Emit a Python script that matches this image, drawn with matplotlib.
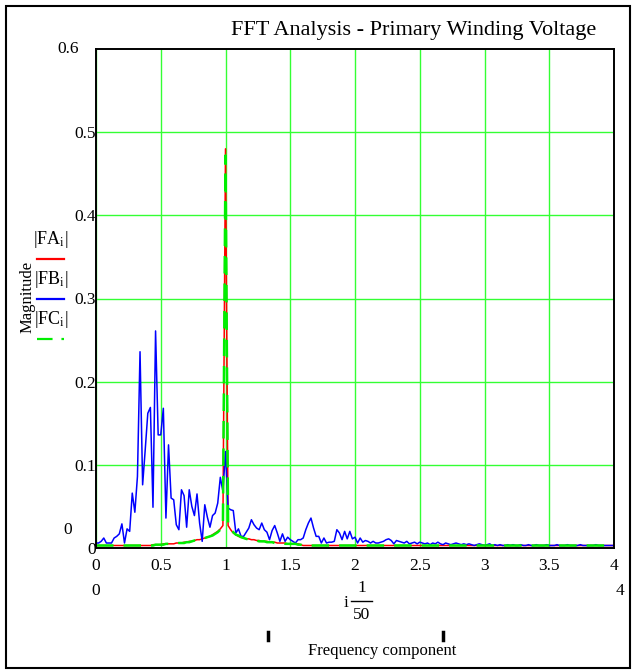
import matplotlib
matplotlib.use("Agg")
import matplotlib.pyplot as plt
import numpy as np
from matplotlib.patches import Rectangle
from matplotlib.lines import Line2D

plt.rcParams['font.family'] = ['Liberation Serif', 'DejaVu Serif']
plt.rcParams['mathtext.fontset'] = 'stix'

W, H = 633, 671

# spectrum magnitudes, sampled at i/50
fb = [0.006, 0.006, 0.008, 0.012, 0.006, 0.006, 0.006, 0.012, 0.014, 0.017,
      0.029, 0.006, 0.023, 0.020, 0.066, 0.043, 0.086, 0.236, 0.076, 0.118,
      0.162, 0.169, 0.049, 0.261, 0.136, 0.136, 0.168, 0.036, 0.124, 0.060,
      0.058, 0.028, 0.022, 0.070, 0.063, 0.025, 0.070, 0.050, 0.039, 0.065,
      0.030, 0.008, 0.052, 0.037, 0.025, 0.039, 0.042, 0.054, 0.085, 0.068,
      0.116, 0.048, 0.046, 0.045, 0.018, 0.023, 0.014, 0.014, 0.019, 0.024,
      0.034, 0.028, 0.024, 0.022, 0.030, 0.022, 0.019, 0.010, 0.021, 0.027,
      0.018, 0.008, 0.017, 0.008, 0.013, 0.010, 0.008, 0.006, 0.010, 0.010,
      0.012, 0.022, 0.030, 0.036, 0.024, 0.014, 0.014, 0.006, 0.012, 0.006,
      0.007, 0.007, 0.008, 0.022, 0.018, 0.010, 0.020, 0.011, 0.020, 0.011,
      0.013, 0.006, 0.012, 0.007, 0.009, 0.008, 0.006, 0.008, 0.006, 0.006,
      0.007, 0.008, 0.010, 0.011, 0.009, 0.005, 0.009, 0.008, 0.007, 0.006,
      0.008, 0.005, 0.006, 0.007, 0.005, 0.007, 0.006, 0.005, 0.006, 0.004,
      0.006, 0.005, 0.007, 0.005, 0.004, 0.006, 0.005, 0.004, 0.005, 0.006,
      0.005, 0.004, 0.005, 0.004, 0.005, 0.004, 0.003, 0.004, 0.005, 0.004,
      0.003, 0.004, 0.005, 0.003, 0.004, 0.003, 0.004, 0.003, 0.003, 0.004,
      0.003, 0.004, 0.003, 0.003, 0.004, 0.003, 0.003, 0.004, 0.003, 0.003,
      0.004, 0.003, 0.003, 0.003, 0.004, 0.003, 0.003, 0.003, 0.004, 0.003,
      0.003, 0.003, 0.004, 0.003, 0.003, 0.003, 0.003, 0.004, 0.003, 0.003,
      0.003, 0.003, 0.003, 0.004, 0.003, 0.003, 0.003, 0.003, 0.003, 0.003,
      0.003]

fa_head = [0.003, 0.003, 0.003, 0.003, 0.003, 0.003, 0.003, 0.003, 0.003, 0.003,
           0.003, 0.003, 0.003, 0.003, 0.003, 0.003, 0.003, 0.003, 0.003, 0.003,
           0.003, 0.003, 0.004, 0.004, 0.004, 0.004, 0.005, 0.005, 0.005, 0.005,
           0.005, 0.006, 0.006, 0.006, 0.007, 0.007, 0.008, 0.008, 0.009, 0.010,
           0.010, 0.011, 0.012, 0.013, 0.014, 0.016, 0.018, 0.020, 0.023, 0.027,
           0.480, 0.027, 0.022, 0.018, 0.016, 0.014, 0.013, 0.012, 0.011, 0.011,
           0.010, 0.010, 0.009, 0.009, 0.008, 0.008, 0.008, 0.007, 0.007, 0.007,
           0.006, 0.006, 0.006, 0.006, 0.005, 0.005, 0.005, 0.005, 0.005, 0.004]
fa_tail = 0.003

fc_head = [0.003, 0.003, 0.003, 0.003, 0.003, 0.003, 0.003, 0.003, 0.003, 0.003,
           0.003, 0.003, 0.003, 0.003, 0.003, 0.003, 0.003, 0.003, 0.003, 0.003,
           0.003, 0.003, 0.003, 0.004, 0.004, 0.004, 0.004, 0.005, 0.005, 0.005,
           0.005, 0.005, 0.006, 0.006, 0.006, 0.007, 0.007, 0.008, 0.009, 0.009,
           0.010, 0.011, 0.012, 0.013, 0.014, 0.015, 0.017, 0.019, 0.022, 0.026,
           0.472, 0.030, 0.023, 0.019, 0.016, 0.015, 0.013, 0.012, 0.011, 0.010,
           0.010, 0.009, 0.009, 0.008, 0.008, 0.008, 0.007, 0.007, 0.007, 0.006,
           0.006, 0.006, 0.006, 0.005, 0.005, 0.005, 0.005, 0.005, 0.004, 0.004]
fc_tail = 0.003

n = len(fb)
fa = fa_head + [fa_tail] * (n - len(fa_head))
fc = fc_head + [fc_tail] * (n - len(fc_head))
freq = np.arange(n) / 50

x_ticks = [0, 0.5, 1, 1.5, 2, 2.5, 3, 3.5, 4]
x_tick_labels = ["0", "0.5", "1", "1.5", "2", "2.5", "3", "3.5", "4"]
y_ticks = [0, 0.1, 0.2, 0.3, 0.4, 0.5]
y_tick_labels = ["0", "0.1", "0.2", "0.3", "0.4", "0.5"]


def fx(px):
    return px / W


def fy(py):
    return 1 - py / H


fig = plt.figure(figsize=(W / 100, H / 100), dpi=100)
ax = fig.add_axes([fx(96), fy(548), (614 - 96) / W, (548 - 49) / H])

grid_c = '#33ff33'
ax.set_xticks(x_ticks)
ax.set_yticks(y_ticks)
ax.grid(True, color=grid_c, lw=1.0)
ax.set_axisbelow(True)

ax.plot(freq, fa, color='#ff0000', lw=1.1)
ax.plot(freq, fb, color='#0000ff', lw=1.1)
ax.plot(freq, fc, color='#00ee00', lw=1.8, dashes=(7, 4))

ax.set_xlim(0, 4)
ax.set_ylim(0, 0.6)
ax.set_xticklabels(x_tick_labels)
ax.set_yticklabels(y_tick_labels)
ax.tick_params(axis='both', length=0, labelsize=12.5)
ax.tick_params(axis='x', pad=7)
ax.tick_params(axis='y', pad=0)
for s in ax.spines.values():
    s.set_color('black')
    s.set_linewidth(1.4)

# title and Mathcad-style axis limit labels
fig.text(fx(414), fy(31), "FFT Analysis - Primary Winding Voltage", fontsize=16,
         ha='center', va='center')
fig.text(fx(68), fy(49), "0.6", fontsize=12.5, ha='center', va='center')
fig.text(fx(68), fy(530), "0", fontsize=12.5, ha='center', va='center')
fig.text(fx(96), fy(591), "0", fontsize=12.5, ha='center', va='center')
fig.text(fx(620), fy(591), "4", fontsize=12.5, ha='center', va='center')

# x expression i*1/50
fig.text(fx(346), fy(603), "i", fontsize=12.5, ha='center', va='center')
fig.text(fx(362), fy(588), "1", fontsize=12.5, ha='center', va='center')
fig.add_artist(Line2D([fx(351), fx(372)], [fy(601), fy(601)], color='black', lw=1.0))
fig.text(fx(362), fy(615), "50", fontsize=12.5, ha='center', va='center')
for px in (268, 443):
    fig.add_artist(Line2D([fx(px), fx(px)], [fy(632), fy(640)], color='black', lw=2.5))
fig.text(fx(382), fy(651), "Frequency component", fontsize=12, ha='center', va='center')

# y label and trace legend
fig.text(fx(28), fy(297), "Magnitude", fontsize=12, rotation=90, ha='center', va='center')
legend = [("FA", '#ff0000', None, 240), ("FB", '#0000ff', None, 280),
          ("FC", '#00ee00', (7, 4), 320)]
for name, col, dash, py in legend:
    fig.text(fx(51), fy(py), "|" + name + r"$_{\mathrm{i}}$|", fontsize=13,
             ha='center', va='center')
    ln = Line2D([fx(37), fx(64)], [fy(py + 19), fy(py + 19)], color=col, lw=1.6)
    if dash:
        ln.set_dashes(dash)
    fig.add_artist(ln)

# outer frame
fig.add_artist(Rectangle((fx(6), fy(668)), fx(624), (668 - 6) / H, fill=False,
                         edgecolor='black', lw=1.5, transform=fig.transFigure))

fig.savefig("out.png", dpi=100)
